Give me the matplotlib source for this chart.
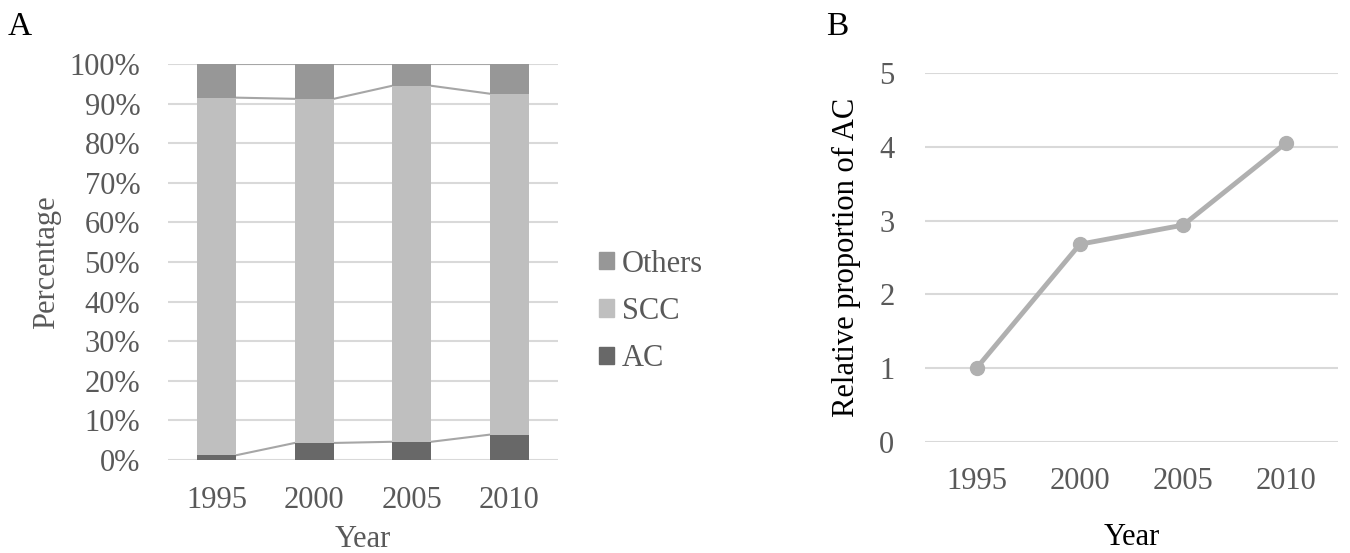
import numpy as np
import matplotlib.pyplot as plt
from matplotlib.patches import Patch

plt.rcParams['font.family'] = ['Liberation Serif', 'DejaVu Serif']

years = ["1995", "2000", "2005", "2010"]
ac = [1.2, 4.3, 4.6, 6.4]
scc = [90.3, 86.9, 89.9, 86.1]
others = [8.5, 8.8, 5.5, 7.5]
rel_ac = [1.0, 2.68, 2.94, 4.06]

c_others = "#979797"
c_scc = "#bfbfbf"
c_ac = "#686868"
grey_txt = "#595959"
grid_c = "#d9d9d9"
fs = 22

fig = plt.figure(figsize=(13.5, 5.53), dpi=100)

# ---- panel A: stacked bars
axA = fig.add_axes([0.1244, 0.1682, 0.2889, 0.7161])
x = np.arange(len(years))
w = 0.4
ac_a = np.array(ac)
scc_a = np.array(scc)
oth_a = np.array(others)
axA.bar(x, ac_a, w, color=c_ac, zorder=3)
axA.bar(x, scc_a, w, bottom=ac_a, color=c_scc, zorder=3)
axA.bar(x, oth_a, w, bottom=ac_a + scc_a, color=c_others, zorder=3)

# series lines joining the bar tops
for top in [ac_a, ac_a + scc_a, ac_a + scc_a + oth_a]:
    for i in range(len(x) - 1):
        axA.plot([x[i] + w / 2, x[i + 1] - w / 2], [top[i], top[i + 1]],
                 color="#a6a6a6", lw=1.5, zorder=2)

axA.set_xlim(-0.5, 3.5)
axA.set_ylim(0, 100)
axA.set_yticks(np.arange(0, 101, 10))
axA.set_yticklabels([f"{v}%" for v in range(0, 101, 10)])
axA.set_xticks(x)
axA.set_xticklabels(years)
axA.yaxis.grid(True, color=grid_c, lw=1.5, zorder=0)
axA.set_axisbelow(True)
for s in axA.spines.values():
    s.set_visible(False)
axA.tick_params(length=0, labelsize=fs, labelcolor=grey_txt)
axA.tick_params(axis='y', pad=20)
axA.tick_params(axis='x', pad=19)
axA.set_xlabel("Year", fontsize=fs, color=grey_txt, labelpad=7)
axA.set_ylabel("Percentage", fontsize=fs, color=grey_txt, labelpad=6)

handles = [Patch(color=c_others, label="Others"),
           Patch(color=c_scc, label="SCC"),
           Patch(color=c_ac, label="AC")]
leg = fig.legend(handles=handles, loc="center left", bbox_to_anchor=(0.4435, 0.437),
                 frameon=False, fontsize=fs, handlelength=0.5, handleheight=0.5,
                 handletextpad=0.25, labelspacing=0.6, labelcolor=grey_txt,
                 borderpad=0, borderaxespad=0)

fig.text(0.006, 0.952, "A", fontsize=24, va="center", ha="left")

# ---- panel B: line
axB = fig.add_axes([0.6852, 0.2013, 0.3059, 0.6661])
axB.plot(x, rel_ac, color="#b0b0b0", lw=3.5, marker="o", ms=10, zorder=3)
axB.set_xlim(-0.5, 3.5)
axB.set_ylim(0, 5)
axB.set_yticks(range(6))
axB.set_xticks(x)
axB.set_xticklabels(years)
axB.yaxis.grid(True, color=grid_c, lw=1.5, zorder=0)
axB.set_axisbelow(True)
for s in axB.spines.values():
    s.set_visible(False)
axB.tick_params(length=0, labelsize=fs, labelcolor=grey_txt, pad=22)
axB.tick_params(axis='x', pad=18)
axB.set_xlabel("Year", fontsize=fs, color="black", labelpad=20)
axB.set_ylabel("Relative proportion of AC", fontsize=fs, color="black", labelpad=13)

fig.text(0.612, 0.952, "B", fontsize=24, va="center", ha="left")

fig.savefig("out.png", dpi=100)
